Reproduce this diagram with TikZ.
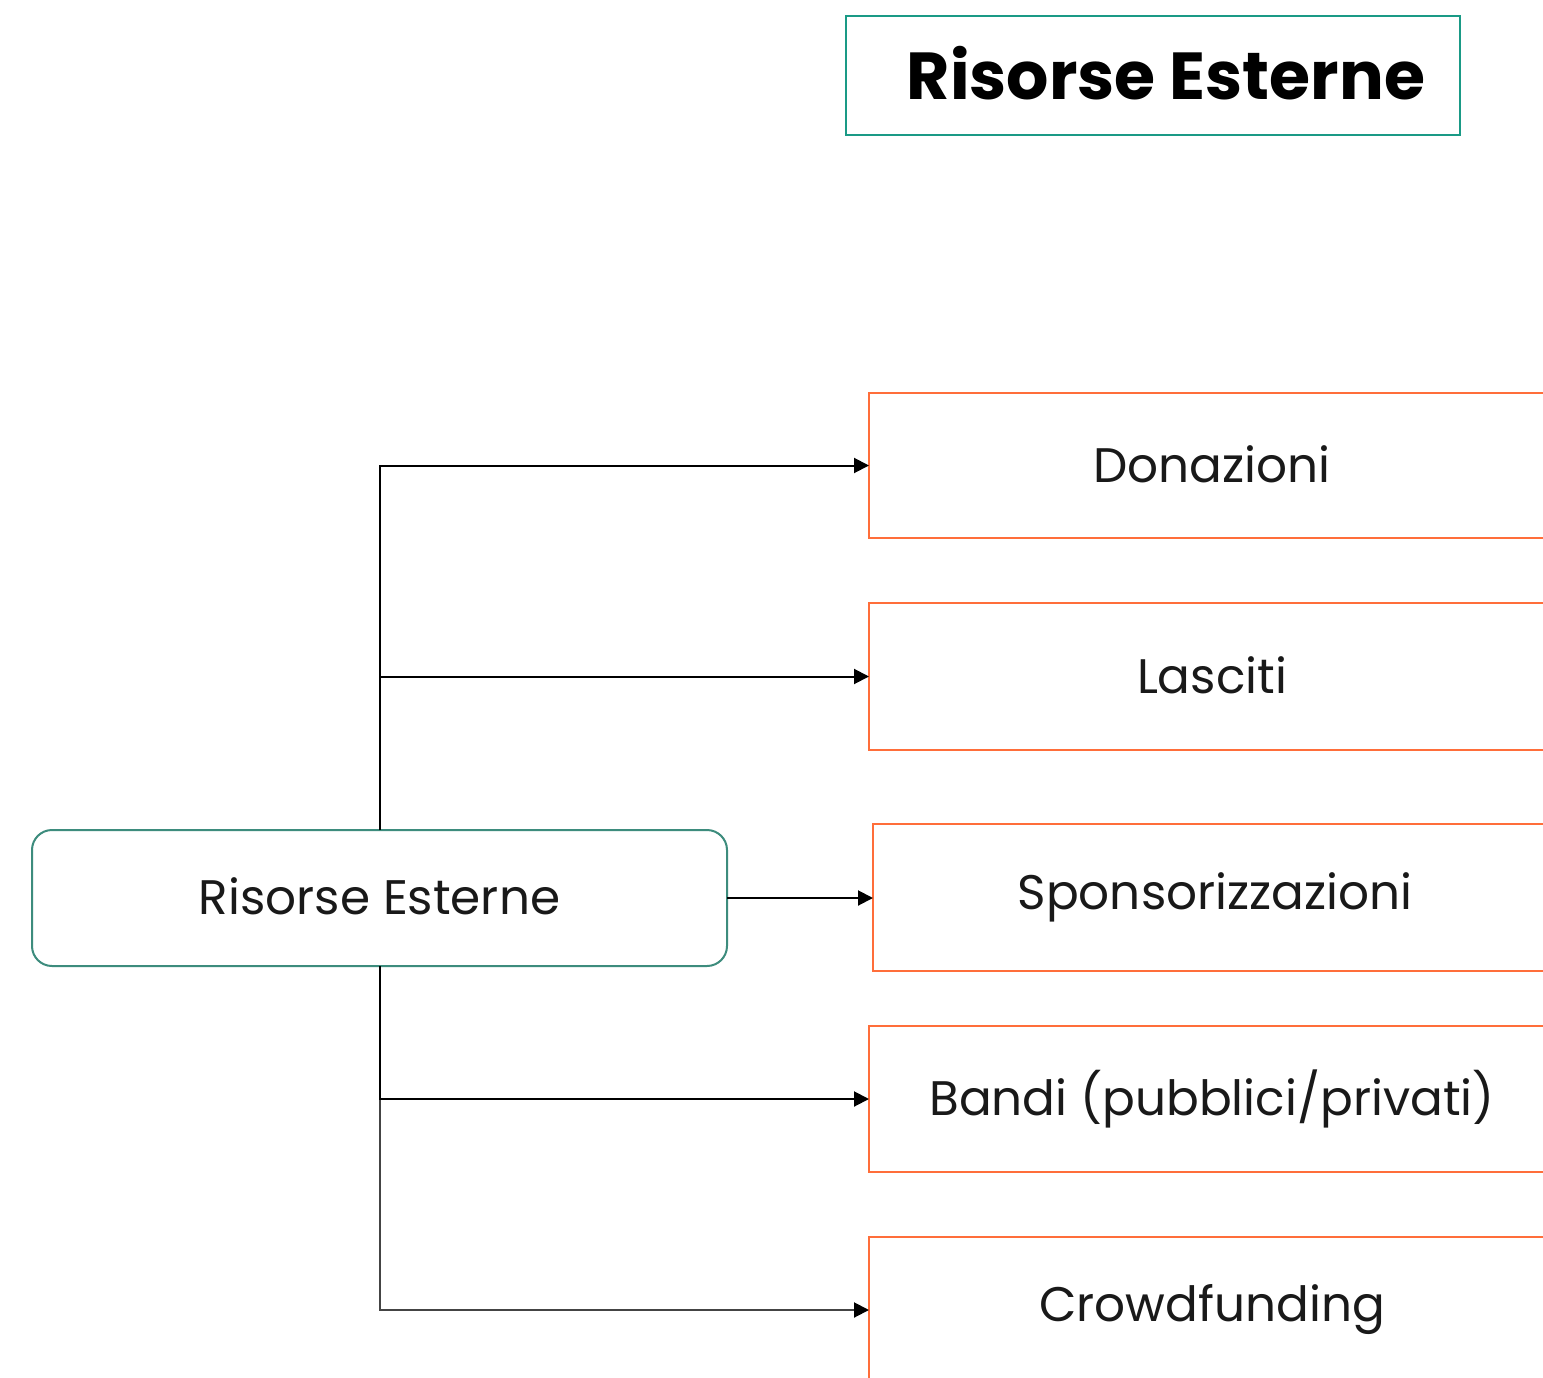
\documentclass[tikz,border=0pt]{standalone}
\usepackage{fontspec}
\setmainfont{Poppins}
\usetikzlibrary{arrows.meta,positioning}
\definecolor{teal1}{HTML}{1A9A86}
\definecolor{teal2}{HTML}{3D8C7D}
\definecolor{orng}{HTML}{FF6E3A}
\definecolor{lgray}{HTML}{444444}
\newcommand{\rbx}[1]{\raisebox{3pt}{#1}}
\tikzset{
  item/.style={draw=orng, line width=2pt, rectangle, inner sep=0pt, outer sep=0pt,
    font=\fontsize{48.5}{52}\selectfont, text=black!90},
  conn/.style={line width=2pt, -{Triangle[length=15pt,width=15pt,color=black]}},
}
\begin{document}
\begin{tikzpicture}[x=1pt,y=-1pt]
\clip (0,0) rectangle (1543,1378);
\fill[white] (0,0) rectangle (1543,1378);
% title
\node[draw=teal1, line width=2pt, minimum width=614pt, minimum height=119pt, inner sep=0pt] (titlebox) at (1153,75.5) {};
\node[font=\fontsize{66.5}{72}\selectfont\bfseries, inner sep=0pt] (titletext) at (1166,73) {Risorse Esterne};
% root
\node[draw=teal2, line width=2pt, rounded corners=20pt, minimum width=695pt, minimum height=136pt, inner sep=0pt, outer sep=0pt,
  font=\fontsize{48.5}{52}\selectfont, text=black!90] (root) at (379.5,898) {\rbx{Risorse Esterne}};
% items
\node[item, minimum width=686pt, minimum height=145pt] (don) at (1212,465.5) {\rbx{Donazioni}};
\node[item, minimum width=686pt, minimum height=147pt] (las) at (1212,676.5) {\rbx{Lasciti}};
\node[item, minimum width=684pt, minimum height=147pt] (spo) at (1215,897.5) {\rbx{Sponsorizzazioni}};
\node[item, minimum width=686pt, minimum height=146pt] (ban) at (1212,1099) {\rbx{Bandi (pubblici/privati)}};
\node[item, minimum width=686pt, minimum height=146pt] (cro) at (1212,1310) {\rbx{Crowdfunding}};
% connectors
\draw[conn, draw=lgray] (root.south) |- (cro.west);
\draw[conn] (root.north) |- (don.west);
\draw[conn] (root.north) |- (las.west);
\draw[conn] (root.east) -- (root.east -| spo.west);
\draw[conn] (root.south) |- (ban.west);
\end{tikzpicture}
\end{document}
